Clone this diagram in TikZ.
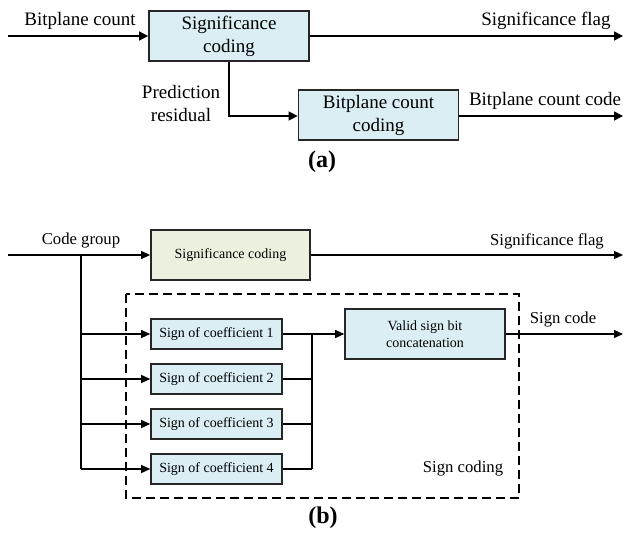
\documentclass[tikz,border=0pt]{standalone}
\usepackage{fontspec}
\setmainfont{Liberation Serif}
\usetikzlibrary{arrows.meta}
\definecolor{boxblue}{HTML}{DAEEF3}
\definecolor{boxgreen}{HTML}{EBF1DE}
\tikzset{
  bigbox/.style={draw=black!85, line width=1.8pt, fill=boxblue, minimum width=160pt, minimum height=50pt, inner sep=0pt, align=center, font=\fontsize{19}{23}\selectfont},
  smallbox/.style={draw=black!85, line width=1.6pt, fill=boxblue, minimum width=131pt, minimum height=30pt, inner sep=0pt, align=center, font=\fontsize{14}{17}\selectfont},
  bigarrow/.style={line width=1.6pt, -{Triangle[length=9pt,width=9pt]}},
  bigline/.style={line width=1.6pt},
  thinarrow/.style={line width=1.1pt, -{Triangle[length=9pt,width=8pt]}},
  thinline/.style={line width=1.1pt},
  labA/.style={font=\fontsize{19}{23}\selectfont, align=center, inner sep=0pt},
  labB/.style={font=\fontsize{16.7}{20}\selectfont, align=center, inner sep=0pt},
  capt/.style={font=\fontsize{24}{28}\selectfont\bfseries, inner sep=0pt}
}
\begin{document}
\begin{tikzpicture}[x=1pt,y=-1pt]
\useasboundingbox (0,0) rectangle (623,536);
% ---------- (a) ----------
\coordinate (ainL) at (8,36);
\node[bigbox] (sig) at (229,36) {Significance\\coding};
\coordinate (aoutR) at (623,36);
\node[bigbox, minimum height=50pt] (bpc) at (378.5,115) {Bitplane count\\coding};
\coordinate (bend) at (229,116);
\coordinate (boutR) at (623,116);
\draw[bigarrow] (ainL) -- (sig.west);
\draw[bigarrow] (sig.east) -- (aoutR);
\draw[bigarrow] (sig.south) -- (bend) -- (bend -| bpc.west);
\draw[bigarrow] (bpc.east |- boutR) -- (boutR);
\node[labA] (l1) at (80,21) {Bitplane count};
\node[labA] (l2) at (546,21) {Significance flag};
\node[labA] (l3) at (181,103) {Prediction\\residual};
\node[labA] (l4) at (545,101) {Bitplane count code};
\node[capt] (ca) at (322,162) {(a)};
% ---------- (b) ----------
\coordinate (binL) at (8,255);
\node[smallbox, fill=boxgreen, minimum width=159pt, minimum height=50pt, line width=1.8pt] (sigb) at (230.5,255) {Significance coding};
\coordinate (boutS) at (623,255);
\draw[dashed, line width=1.1pt, dash pattern=on 9pt off 5pt] (126,294) rectangle (519,498);
\node[smallbox] (s1) at (216.5,334) {Sign of coefficient 1};
\node[smallbox] (s2) at (216.5,379) {Sign of coefficient 2};
\node[smallbox] (s3) at (216.5,424) {Sign of coefficient 3};
\node[smallbox] (s4) at (216.5,469) {Sign of coefficient 4};
\node[smallbox, minimum width=160pt, minimum height=50pt, font=\fontsize{14}{17}\selectfont] (cat) at (425,334) {Valid sign bit\\concatenation};
\coordinate (bus) at (81,255);
\coordinate (merge) at (312,334);
\coordinate (signR) at (623,334);
\draw[thinarrow] (binL) -- (sigb.west);
\draw[thinarrow] (sigb.east) -- (boutS);
\draw[thinline] (bus) -- (bus |- s4.west);
\foreach \s in {s1,s2,s3,s4} {
  \draw[thinarrow] (bus |- \s.west) -- (\s.west);
  \draw[thinline] (\s.east) -- (merge |- \s.east);
}
\draw[thinline] (merge) -- (merge |- s4.east);
\draw[thinarrow] (merge) -- (cat.west);
\draw[thinarrow] (cat.east) -- (signR);
\node[labB] (m1) at (81,241) {Code group};
\node[labB] (m2) at (547,241) {Significance flag};
\node[labB] (m3) at (563,320) {Sign code};
\node[labB] (m4) at (463,468) {Sign coding};
\node[capt] (cb) at (323,518) {(b)};
\end{tikzpicture}
\end{document}
